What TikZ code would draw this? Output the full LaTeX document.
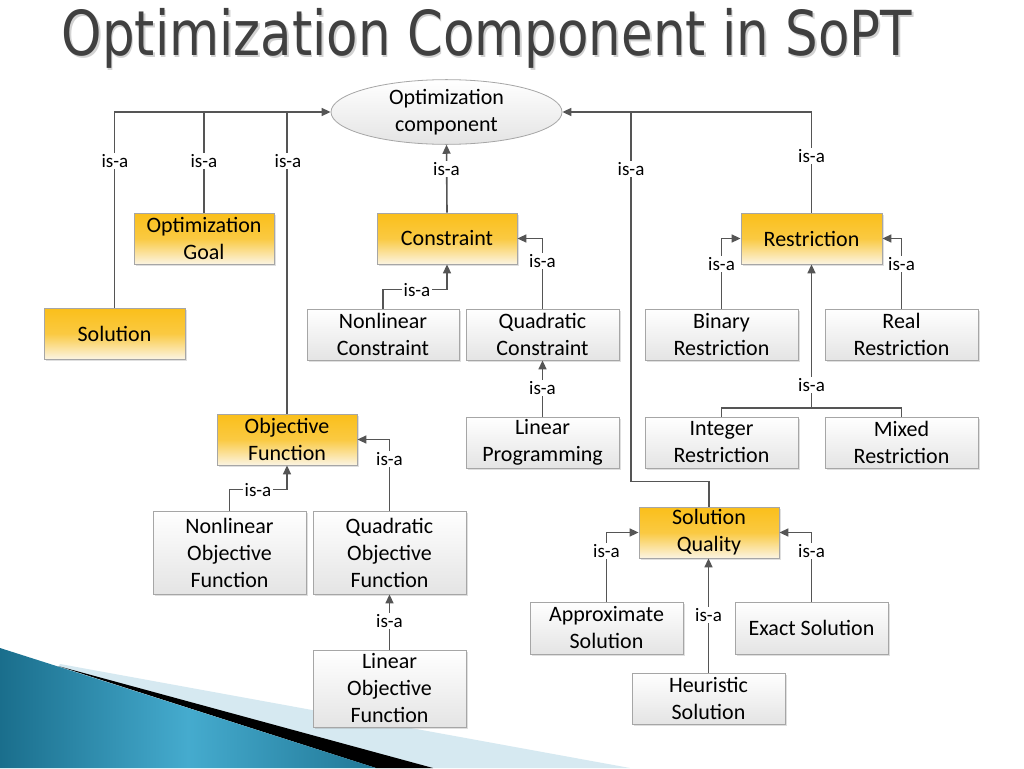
\documentclass[tikz,border=0pt]{standalone}
\usepackage{fontspec}
\setmainfont{Carlito}
\newfontfamily\titlefont{DejaVu Sans}
\usetikzlibrary{arrows.meta,shapes.geometric,shadows,calc}
\definecolor{goldtop}{HTML}{FABF1A}
\definecolor{goldbot}{HTML}{FBF4E2}
\definecolor{boxbot}{HTML}{E4E4E4}
\definecolor{edgecol}{HTML}{A6A6A6}
\definecolor{lncol}{HTML}{555555}
\definecolor{titlec}{HTML}{404040}
\definecolor{bluedark}{HTML}{1A6E8C}
\definecolor{bluelight}{HTML}{45ABCE}
\definecolor{palebl}{HTML}{D6E9F1}
\begin{document}
\begin{tikzpicture}[x=1pt,y=-1pt,
  base/.style={draw=edgecol, line width=0.8pt, inner sep=0pt, align=center, text=black,
    font=\fontsize{22}{27}\selectfont,
    drop shadow={opacity=0.25,shadow xshift=1.5pt,shadow yshift=-1.5pt}},
  goldbox/.style={base, top color=goldtop, bottom color=goldbot, middle color=goldtop!80!goldbot,
    minimum width=140pt, minimum height=51pt},
  greybox/.style={base, top color=white, bottom color=boxbot, minimum width=153pt, minimum height=51pt},
  line/.style={draw=lncol, line width=1.6pt},
  conn/.style={line, -{Triangle[length=9pt,width=8pt]}},
  lbl/.style={fill=white, inner sep=1.5pt, font=\fontsize{19}{22}\selectfont, text=black}
]
\fill[white] (0,0) rectangle (1024,768);
\useasboundingbox (0,0) rectangle (1024,768);

% decoration bottom left
\fill[palebl] (60,664) -- (630,768) -- (0,768) -- cycle;
\fill[black] (58,666) -- (433,768) -- (376,768) -- cycle;
\shade[left color=bluedark, right color=bluedark!85!bluelight, middle color=bluelight]
  (0,648) -- (376,768) -- (0,768) -- cycle;

% title
\node[font=\titlefont\fontsize{62}{62}\selectfont, text=gray!35, anchor=base] (titleshadow) at (488.5,57) {\scalebox{0.83}[1]{Optimization Component in SoPT}};
\node[font=\titlefont\fontsize{62}{62}\selectfont, text=titlec, anchor=base] (title) at (487,56) {\scalebox{0.83}[1]{Optimization Component in SoPT}};

% root
\node[ellipse, draw=edgecol, line width=0.8pt, top color=white, bottom color=boxbot, inner sep=0pt,
  minimum width=231pt, minimum height=60pt, align=center, font=\fontsize{22}{27}\selectfont] (oc) at (446.5,112) {Optimization\\component};

% gold boxes
\node[goldbox, minimum width=141pt] (sol) at (114.5,333.5) {Solution};
\node[goldbox] (goal) at (204,238.5) {Optimization\\Goal};
\node[goldbox] (objf) at (287,439.5) {Objective\\Function};
\node[goldbox] (cons) at (447,238.5) {Constraint};
\node[goldbox, minimum width=141pt] (restr) at (811.5,238.5) {Restriction};
\node[goldbox] (sq) at (709,532.5) {Solution\\Quality};

% grey boxes
\node[greybox, minimum width=152pt] (ncons) at (383,334.5) {Nonlinear\\Constraint};
\node[greybox] (qcons) at (542.5,334.5) {Quadratic\\Constraint};
\node[greybox] (linprog) at (542.5,442.5) {Linear\\Programming};
\node[greybox, minimum height=83pt] (nobj) at (229.5,552.5) {Nonlinear\\Objective\\Function};
\node[greybox, minimum height=83pt] (qobj) at (389.5,552.5) {Quadratic\\Objective\\Function};
\node[greybox, minimum height=77pt] (lobj) at (389.5,688.5) {Linear\\Objective\\Function};
\node[greybox] (binr) at (721.5,334.5) {Binary\\Restriction};
\node[greybox] (realr) at (901.5,334.5) {Real\\Restriction};
\node[greybox] (intr) at (721.5,442.5) {Integer\\Restriction};
\node[greybox] (mixr) at (901.5,442.5) {Mixed\\Restriction};
\node[greybox, minimum height=52pt] (appr) at (606.5,628) {Approximate\\Solution};
\node[greybox, minimum height=52pt] (exact) at (811.5,628) {Exact Solution};
\node[greybox] (heur) at (708.5,698.5) {Heuristic\\Solution};

% connectors
\coordinate (jq) at (631,112);
\coordinate (rj) at (811.5,408);
\draw[conn] (sol.north) |- (oc.west);
\draw[line] (goal.north) -- (goal.north |- oc.west);
\draw[line] (objf.north) -- (objf.north |- oc.west);
\draw[conn] (cons.north) -- (oc.south);
\draw[conn] (ncons.north) -- ++(0,-19) -| (cons.south);
\draw[conn] (qcons.north) |- (cons.east);
\draw[conn] (linprog.north) -- (qcons.south);
\draw[conn] (nobj.north) -- ++(0,-21) -| (objf.south);
\draw[conn] (qobj.north) |- (objf.east);
\draw[conn] (lobj.north) -- (qobj.south);
\draw[conn] (restr.north) |- (oc.east);
\draw[line] (sq.north) -- ++(0,-25) -| (jq);
\draw[conn] (binr.north) |- (restr.west);
\draw[conn] (realr.north) |- (restr.east);
\draw[line] (intr.north) |- (rj) -| (mixr.north);
\draw[conn] (rj) -- (restr.south);
\draw[conn] (appr.north) |- (sq.west);
\draw[conn] (exact.north) |- (sq.east);
\draw[conn] (heur.north) -- (heur.north |- sq.south);

% labels
\node[lbl] (l1) at (115,161) {is-a};
\node[lbl] (l2) at (204,161) {is-a};
\node[lbl] (l3) at (288,161) {is-a};
\node[lbl] (l4) at (446.5,169) {is-a};
\node[lbl] (l5) at (417,290) {is-a};
\node[lbl] (l6) at (542.5,261) {is-a};
\node[lbl] (l7) at (542.5,388) {is-a};
\node[lbl] (l8) at (258,490) {is-a};
\node[lbl] (l9) at (389.5,459) {is-a};
\node[lbl] (l10) at (389.5,621) {is-a};
\node[lbl] (l11) at (811.5,156) {is-a};
\node[lbl] (l12) at (631,169) {is-a};
\node[lbl] (l13) at (721.5,264) {is-a};
\node[lbl] (l14) at (901.5,264) {is-a};
\node[lbl] (l15) at (811.5,385) {is-a};
\node[lbl] (l16) at (606.5,551) {is-a};
\node[lbl] (l17) at (811.5,551) {is-a};
\node[lbl] (l18) at (708.5,615) {is-a};
\end{tikzpicture}
\end{document}
